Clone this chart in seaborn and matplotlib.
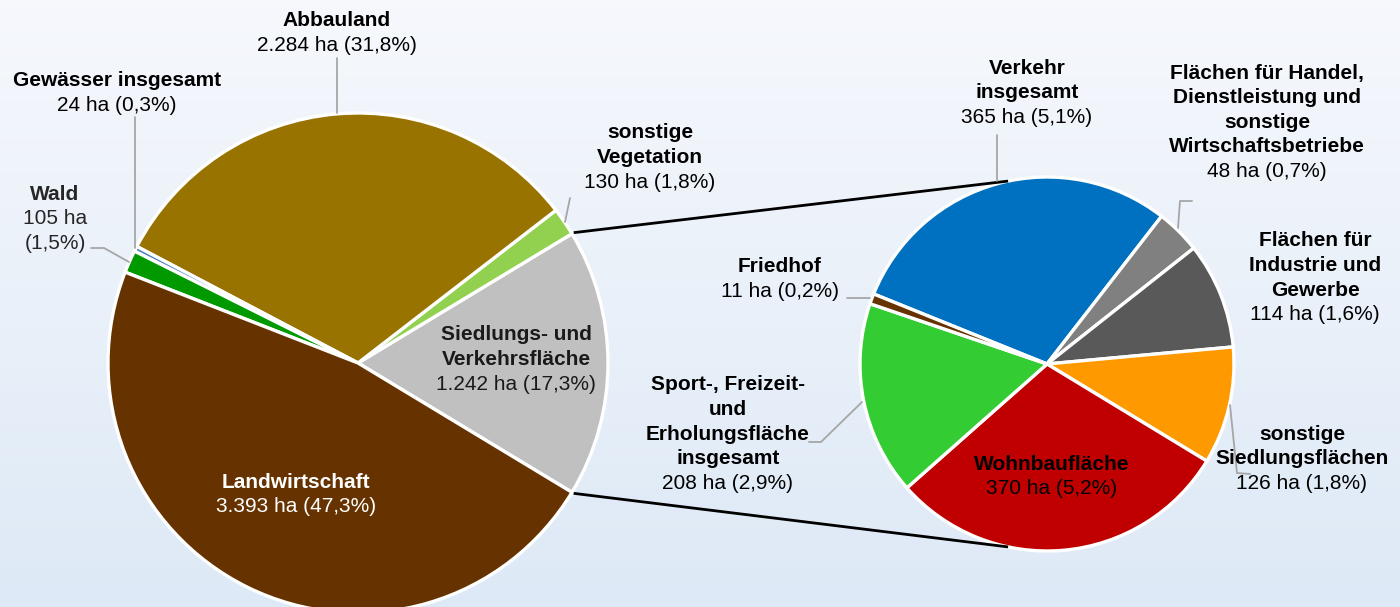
import numpy as np
import matplotlib
matplotlib.use("Agg")
import matplotlib.pyplot as plt
import seaborn as sns

sns.set_theme(style="white")
plt.rcParams['font.family'] = ['Liberation Sans', 'DejaVu Sans']

# ---------------- data ----------------
main_names = ["Siedlungs- und\nVerkehrsfläche", "sonstige\nVegetation", "Abbauland",
              "Gewässer insgesamt", "Wald", "Landwirtschaft"]
main_values = [1242, 130, 2284, 24, 105, 3393]
main_colors = ["#C0C0C0", "#92D050", "#997300", "#4F81BD", "#009900", "#663300"]

sub_names = ["Verkehr\ninsgesamt", "Flächen für Handel,\nDienstleistung und\nsonstige\nWirtschaftsbetriebe",
             "Flächen für\nIndustrie und\nGewerbe", "sonstige\nSiedlungsflächen", "Wohnbaufläche",
             "Sport-, Freizeit-\nund\nErholungsfläche\ninsgesamt", "Friedhof"]
sub_values = [365, 48, 114, 126, 370, 208, 11]
sub_colors = ["#0070C0", "#808080", "#595959", "#FF9900", "#C00000", "#33CC33", "#663300"]

total = sum(main_values)


def fmt(v):
    pct = f"{100 * v / total:.1f}".replace(".", ",")
    return f"{v:,}".replace(",", ".") + f" ha ({pct}%)"


W, H = 1400, 607
fig = plt.figure(figsize=(W / 100, H / 100), dpi=100)
ax = fig.add_axes([0, 0, 1, 1])

# background gradient
grad = np.linspace(0, 1, 256).reshape(-1, 1)
top = np.array([0.965, 0.973, 0.990])
bot = np.array([0.867, 0.914, 0.965])
img = top[None, None, :] * (1 - grad[:, :, None]) + bot[None, None, :] * grad[:, :, None]
ax.imshow(img, extent=[0, W, 0, H], aspect='auto', zorder=0, origin='upper')


def Y(y):
    return H - y


# ---------------- pies ----------------
c1 = (358, Y(363)); r1 = 250
c2 = (1047, Y(364)); r2 = 187
half = 0.5 * main_values[0] / total * 360

ax.pie(main_values, colors=main_colors, startangle=-half, counterclock=True,
       center=c1, radius=r1, frame=True,
       wedgeprops=dict(edgecolor="white", linewidth=2.4))
ax.pie(sub_values, colors=sub_colors, startangle=158, counterclock=False,
       center=c2, radius=r2, frame=True,
       wedgeprops=dict(edgecolor="white", linewidth=2.4))

# connector lines
for s in (1, -1):
    a1 = np.deg2rad(s * half)
    a2 = np.deg2rad(s * 102)
    ax.plot([c1[0] + (r1 + 2) * np.cos(a1), c2[0] + r2 * np.cos(a2)],
            [c1[1] + (r1 + 2) * np.sin(a1), c2[1] + r2 * np.sin(a2)],
            color="black", lw=2.0, zorder=1.5, solid_capstyle='butt')

# ---------------- labels ----------------
PITCH = 24.6
FS = 15


def label(name, value, x, y0, color="black"):
    lines = name.split("\n")
    for i, ln in enumerate(lines):
        ax.text(x, Y(y0 + i * PITCH), ln, ha="center", va="center", fontsize=FS,
                fontweight="bold", color=color, zorder=5)
    ax.text(x, Y(y0 + len(lines) * PITCH), fmt(value), ha="center", va="center",
            fontsize=FS, color=color, zorder=5)


main_pos = [(516, 335, "#1a1a1a"), (650, 133, "black"), (337, 21, "black"),
            (117, 81, "black"), (55, 194, "black"), (296, 482, "white")]
for n, v, (x, y, col) in zip(main_names, main_values, main_pos):
    if n == "Wald":
        ax.text(x, Y(y), n, ha="center", va="center", fontsize=FS, fontweight="bold", zorder=5)
        ax.text(x, Y(y + PITCH), f"{v} ha", ha="center", va="center", fontsize=FS, zorder=5)
        pct = f"{100 * v / total:.1f}".replace(".", ",")
        ax.text(x, Y(y + 2 * PITCH), f"({pct}%)", ha="center", va="center", fontsize=FS, zorder=5)
    else:
        label(n, v, x, y, col)

sub_pos = [(1027, 68, "black"), (1267, 73, "black"), (1315, 241, "black"),
           (1302, 434, "black"), (1052, 464, "black"), (728, 385, "black"), (780, 267, "black")]
for n, v, (x, y, col) in zip(sub_names, sub_values, sub_pos):
    label(n, v, x, y, col)

# leader lines
lc = "#A6A6A6"
leaders = [
    [(337, 58), (337, 113)],
    [(135, 117), (135, 248)],
    [(91, 248), (104, 248), (129, 262)],
    [(570, 198), (565, 222)],
    [(997, 135), (997, 181)],
    [(1192, 201), (1180, 201), (1178, 228)],
    [(847, 298), (870, 298)],
    [(809, 442), (821, 442), (862, 402)],
    [(1230, 405), (1237, 473), (1250, 474)],
]
for pts in leaders:
    xs = [p[0] for p in pts]
    ys = [Y(p[1]) for p in pts]
    ax.plot(xs, ys, color=lc, lw=1.3, zorder=2)

ax.set_xlim(0, W)
ax.set_ylim(0, H)
ax.set_aspect('auto')
ax.axis('off')

fig.savefig("out.png", dpi=100)
